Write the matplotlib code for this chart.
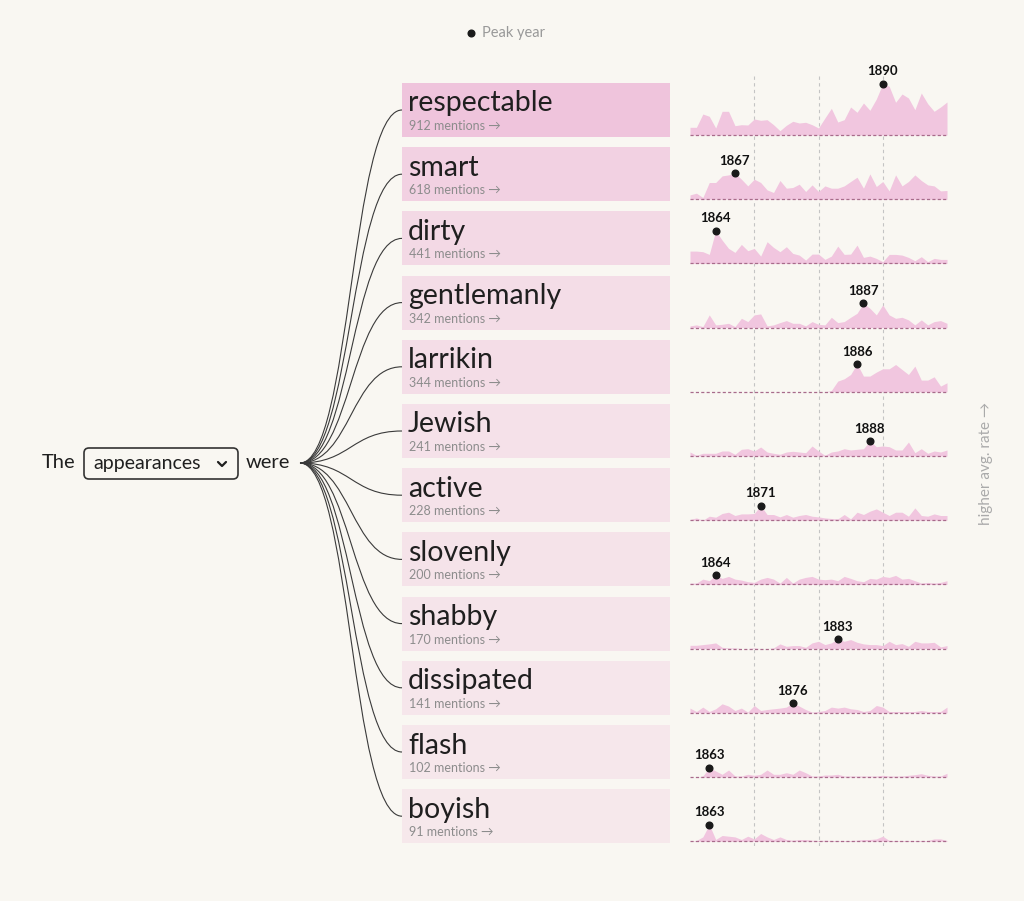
import numpy as np
import matplotlib
matplotlib.use("Agg")
import matplotlib.pyplot as plt
from matplotlib.patches import FancyBboxPatch, Rectangle
from matplotlib.path import Path
from matplotlib.patches import PathPatch
from matplotlib.colors import to_rgb

# ---------------- data ----------------
years = list(range(1860, 1901))
words = ["respectable", "smart", "dirty", "gentlemanly", "larrikin", "Jewish",
         "active", "slovenly", "shabby", "dissipated", "flash", "boyish"]
mentions = [912, 618, 441, 342, 344, 241, 228, 200, 170, 141, 102, 91]

respectable = [7.7, 7.7, 21, 18.7, 7, 23.7, 23.7, 9.3, 10.3, 10, 16, 14.7, 15.3, 10.3, 4.3, 9.7, 13.7, 12, 12.7, 10.3,
               7, 17, 26.7, 13, 15.3, 28, 22.7, 32, 24.7, 36, 51.3, 48.7, 32.7, 41, 37, 25.3, 42, 31.3, 23.7, 28, 33]
smart = [4.3, 6, 1.7, 16.7, 16.7, 23.3, 24.3, 26, 20, 13.3, 20, 16.7, 9.3, 6.7, 18.7, 11, 11.7, 15, 7.7, 14.3,
         7.7, 13.3, 11, 11, 13.3, 17.7, 22, 11, 25.3, 12.7, 17.7, 8.3, 24.3, 13.3, 17.7, 24.3, 18.7, 14.3, 13.3, 8.3, 8.7]
dirty = [12.3, 12.3, 11.7, 9, 32.7, 23.3, 15, 11, 19, 12.7, 15, 7.3, 21.7, 16, 11.7, 16.7, 10, 8.3, 3.3, 9.3,
         9.3, 4, 7.3, 17.3, 9, 9.3, 18.3, 6, 7.3, 5, 1.7, 9, 9, 8.3, 6, 2.7, 6.7, 1.7, 5, 4, 4]
gentlemanly = [1.7, 2.7, 1, 12.7, 2.7, 3.3, 4.3, 1, 9.3, 6, 12.7, 13.7, 1.7, 2.7, 5, 7, 4.3, 4.3, 1.7, 6,
               3.3, 2.7, 10.3, 5, 6, 10.3, 14.3, 24.3, 19.3, 12.7, 22.7, 12.7, 9.3, 10.3, 7.7, 2.7, 7.7, 2.7, 6, 7, 4.3]
larrikin = [0, 0, 0, 0, 0, 0, 0, 0, 0, 0, 0, 0, 0, 0, 0, 0, 0, 0, 0, 0,
            0, 0, 1.3, 10.7, 13, 17.3, 28, 15.7, 15.7, 19.7, 23, 23, 27.3, 22.3, 17.3, 25.7, 11.7, 11.7, 15, 5.7, 9]
jewish = [4, 0.7, 2.7, 2.7, 2.7, 5, 5, 1.7, 6.7, 7.3, 5, 9, 4, 2.7, 1.7, 4, 4.7, 4, 3.3, 10,
          5, 0.7, 4, 5, 7.3, 6, 6.7, 7.3, 15, 9.3, 10, 9.3, 6, 6, 14, 3.3, 7.3, 2.7, 5, 4, 6]
active = [0.7, 2.3, 0, 4, 3, 6.7, 8, 4.7, 6.3, 6.3, 6.7, 14.7, 5.7, 5.7, 3.3, 5.7, 3, 4.7, 5.7, 4,
          3.3, 2.3, 1.7, 1.3, 5.7, 1.3, 8, 5.7, 9, 11.3, 8, 4.7, 8, 8, 4, 12.3, 4.7, 4, 6.3, 4.7, 4.7]
slovenly = [1.3, 1.3, 5.3, 3.7, 9.3, 6, 8, 5.3, 4.3, 2.7, 2, 5.3, 7, 5.3, 1.3, 7, 1.3, 5.3, 7, 8,
            5.3, 4.7, 5.3, 3.7, 8, 6, 3.7, 2.7, 6, 5.3, 8, 7, 9, 5.3, 6, 3.7, 1.3, 2, 1.3, 2, 3.7]
shabby = [3.3, 3.3, 4, 4.7, 5.7, 1.3, 0.7, 0.7, 0, 0, 0.7, 0, 0, 0.7, 4.7, 2.3, 3, 3, 1.3, 5.7,
          7.3, 4, 5.7, 9.7, 7.3, 9, 6.3, 4.7, 4, 4, 3, 7.3, 4, 5, 2.3, 7.3, 5.7, 5.7, 6.3, 1.7, 3]
dissipated = [4.7, 1.3, 5.7, 1.3, 4, 9, 6.7, 2.3, 4.7, 0.7, 7.3, 2.3, 3.3, 4, 4.7, 5.7, 10, 6.7, 3.3, 0.7,
              1.3, 2.3, 5.7, 4.7, 5.7, 4, 3.3, 1.3, 2.3, 7.3, 5.7, 1.3, 1.3, 1.3, 1.3, 1.3, 2.3, 1.3, 1.3, 1.3, 5.7]
flash = [0, 0, 1, 9.3, 6, 2.7, 7, 1, 1, 2.7, 1.7, 2.7, 7, 2.7, 2.7, 4.3, 2.7, 7, 4.3, 1,
         1, 2, 2, 2.7, 1, 1, 1, 1, 1, 1, 1.7, 1, 1, 1, 1.7, 2.3, 3.3, 1.7, 1, 1, 3.7]
boyish = [0, 0.7, 4.3, 16.7, 1.7, 5.7, 5, 4.3, 1.7, 5, 2.3, 7.7, 4.3, 1.7, 4.3, 1.7, 1, 1.7, 1.7, 1,
          0.7, 1, 0.7, 0.7, 0.7, 0.7, 1, 1.7, 1.7, 2.3, 5, 0.7, 0.7, 0.7, 0.7, 0.7, 0.7, 0.7, 2.3, 2.3, 0.7]

series = [respectable, smart, dirty, gentlemanly, larrikin, jewish,
          active, slovenly, shabby, dissipated, flash, boyish]
grid_years = [1870, 1880, 1890]

# ---------------- style ----------------
BG = "#f9f7f2"
PINK = "#f1c6df"
BASE = "#a86b8b"
TXT = "#1f1f1f"
GREY = "#8c8c8c"
FONT = ["Lato", "DejaVu Sans"]
plt.rcParams["font.family"] = FONT

W, H = 1024, 901
fig = plt.figure(figsize=(W / 100, H / 100), dpi=100, facecolor=BG)

# overlay axes in pixel coordinates for layout elements
ax0 = fig.add_axes([0, 0, 1, 1])
ax0.set_xlim(0, W)
ax0.set_ylim(H, 0)
ax0.axis("off")

row0, step = 83, 64.2
box_x0, box_x1, box_h = 402, 670, 54
sp_x0, sp_x1 = 690, 947
sp_h = 64  # px, one value unit = one pixel

bg_rgb = np.array(to_rgb(BG))
pk_rgb = np.array(to_rgb("#efc4dc"))
mmax = max(mentions)

origin = (300, 463)
for i, (w, m) in enumerate(zip(words, mentions)):
    top = row0 + step * i
    a = 0.22 + 0.78 * (m / mmax)
    col = bg_rgb * (1 - a) + pk_rgb * a
    ax0.add_patch(Rectangle((box_x0, top), box_x1 - box_x0, box_h, facecolor=col, edgecolor="none"))
    ax0.text(box_x0 + 6, top + 20.5, w, fontsize=20.5, color=TXT, va="center", ha="left")
    ax0.text(box_x0 + 7, top + 43, f"{m} mentions \u2192", fontsize=9, color=GREY, va="center", ha="left")
    # link curve
    x0, y0 = origin
    x1, y1 = box_x0, top + 27
    xm = (x0 + x1) / 2
    p = Path([(x0, y0), (xm, y0), (xm, y1), (x1, y1)],
             [Path.MOVETO, Path.CURVE4, Path.CURVE4, Path.CURVE4])
    ax0.add_patch(PathPatch(p, facecolor="none", edgecolor="#3a3a3a", lw=0.8))

# left sentence
ax0.text(42, 463, "The", fontsize=14.5, color=TXT, va="center", ha="left")
ax0.add_patch(FancyBboxPatch((84, 448), 154, 31, boxstyle="round,pad=0,rounding_size=5",
                             facecolor=BG, edgecolor="#333333", lw=1.2))
ax0.text(93, 464, "appearances", fontsize=14, color=TXT, va="center", ha="left")
ax0.plot([218, 222, 226], [462, 466, 462], color=TXT, lw=1.6, solid_capstyle="round")
ax0.text(246, 463, "were", fontsize=14.5, color=TXT, va="center", ha="left")

# legend
ax0.plot([471], [33], "o", color="#1a1a1a", ms=4.8)
ax0.text(482, 33, "Peak year", fontsize=10.5, color="#999999", va="center", ha="left")

# right label
ax0.text(986, 463, "higher avg. rate \u2192", fontsize=11, color="#aaaaaa", rotation=90,
         va="center", ha="center")

# grid axes
gtop, gbot = 75, 846
axg = fig.add_axes([sp_x0 / W, (H - gbot) / H, (sp_x1 - sp_x0) / W, (gbot - gtop) / H])
axg.set_xlim(years[0], years[-1])
axg.set_ylim(0, 1)
axg.axis("off")
for gy in grid_years:
    axg.axvline(gy, color="#c4c4c4", lw=0.8, ls=(0, (3, 3)))

# sparklines
for i, vals in enumerate(series):
    base = row0 + step * i + 52
    ax = fig.add_axes([sp_x0 / W, (H - base) / H, (sp_x1 - sp_x0) / W, sp_h / H])
    ax.set_xlim(years[0], years[-1])
    ax.set_ylim(0, sp_h)
    ax.axis("off")
    ax.fill_between(years, 0, vals, color=PINK, lw=0)
    ax.axhline(0, color=BASE, lw=0.9, ls=(0, (2.5, 1.8)), clip_on=False)
    k = int(np.argmax(vals))
    ax.plot([years[k]], [vals[k]], "o", color="#1a1a1a", ms=4.8, clip_on=False, zorder=5)
    ax.annotate(str(years[k]), (years[k], vals[k]), xytext=(0, 4.5), textcoords="offset points",
                ha="center", va="bottom", fontsize=9.5, fontweight="bold", color="#111111",
                annotation_clip=False)

fig.savefig("out.png", dpi=100, facecolor=BG)
